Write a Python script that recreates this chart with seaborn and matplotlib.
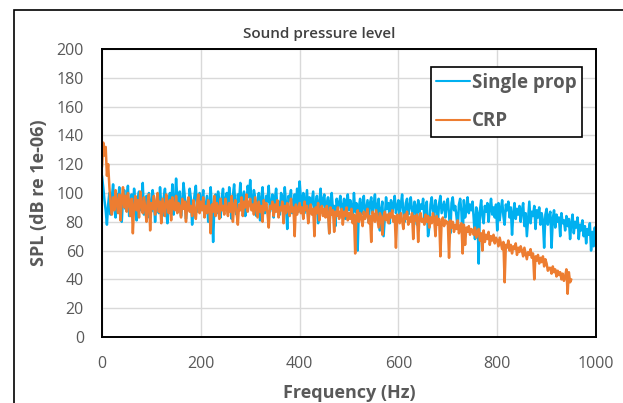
import numpy as np
import pandas as pd
import matplotlib.pyplot as plt
import matplotlib.patches as mpatches
import seaborn as sns

# =========================================
# 1. DATA (2.5 Hz steps)
# =========================================
FREQ_STEP = 2.5

spl_single = [
    112, 104, 95, 88, 78, 92, 100, 85, 97, 106, 90, 83, 99, 94, 104, 87, 80, 96, 102, 89,
    95, 105, 84, 91, 99, 86, 103, 93, 81, 97, 101, 88, 94, 107, 85, 90, 98, 83, 100, 92,
    87, 102, 95, 80, 93, 99, 86, 104, 91, 84, 97, 103, 88, 79, 95, 100, 90, 106, 85, 93,
    110, 96, 88, 101, 84, 92, 107, 98, 82, 94, 89, 103, 96, 78, 91, 99, 105, 87, 94, 100,
    88, 96, 102, 84, 91, 98, 80, 93, 104, 89, 66, 92, 99, 86, 101, 94, 83, 97, 103, 88,
    95, 100, 87, 104, 92, 82, 98, 106, 90, 85, 99, 94, 107, 88, 96, 101, 84, 93, 105, 97,
    109, 95, 88, 102, 97, 84, 93, 100, 81, 96, 104, 90, 86, 98, 94, 105, 87, 92, 99, 83,
    96, 103, 89, 94, 85, 100, 97, 88, 104, 92, 75, 98, 95, 102, 86, 93, 99, 90, 103, 87,
    108, 96, 91, 100, 86, 94, 102, 82, 97, 89, 95, 101, 84, 92, 98, 79, 93, 103, 88, 95,
    99, 86, 92, 97, 72, 94, 100, 88, 91, 77, 96, 89, 93, 98, 85, 90, 96, 82, 94, 99,
    88, 95, 91, 84, 100, 87, 93, 60, 90, 96, 85, 92, 98, 83, 89, 95, 80, 93, 97, 86,
    92, 99, 85, 90, 96, 74, 88, 94, 70, 84, 97, 89, 93, 79, 95, 87, 91, 98, 86, 90,
    95, 84, 92, 99, 87, 80, 93, 96, 85, 90, 97, 88, 82, 94, 91, 78, 95, 87, 92, 89,
    96, 83, 90, 94, 70, 76, 92, 97, 88, 84, 95, 89, 81, 93, 98, 86, 90, 94, 83, 91,
    96, 85, 72, 93, 97, 88, 91, 84, 75, 92, 96, 87, 68, 95, 83, 89, 97, 86, 92, 88,
    94, 82, 68, 90, 86, 51, 88, 95, 84, 79, 91, 87, 93, 80, 89, 96, 85, 90, 83, 92,
    74, 93, 81, 89, 95, 84, 78, 92, 88, 94, 83, 90, 71, 86, 93, 82, 89, 85, 91, 80,
    88, 93, 77, 86, 70, 82, 94, 79, 87, 84, 91, 75, 88, 83, 90, 78, 86, 81, 62, 85,
    89, 78, 84, 87, 62, 82, 88, 76, 85, 80, 83, 70, 86, 79, 81, 74, 84, 77, 82, 68,
    79, 85, 72, 80, 76, 83, 68, 78, 74, 81, 70, 77, 65, 75, 71, 79, 60, 73, 63, 76,
    68,
]

spl_crp = [
    118, 135, 126, 132, 112, 120, 104, 92, 85, 97, 88, 102, 93, 86, 99, 81, 95, 104, 90, 98,
    87, 100, 93, 84, 96, 72, 91, 98, 88, 95, 83, 101, 92, 86, 97, 90, 80, 94, 99, 74,
    93, 89, 98, 85, 92, 100, 87, 94, 79, 96, 90, 84, 99, 92, 86, 95, 81, 97, 91, 88,
    98, 86, 93, 90, 83, 96, 89, 94, 80, 92, 97, 87, 91, 84, 95, 88, 82, 93, 99, 86,
    94, 88, 97, 83, 91, 86, 95, 89, 72, 92, 87, 98, 84, 93, 90, 82, 96, 88, 91, 85,
    96, 89, 84, 93, 87, 98, 80, 91, 95, 86, 78, 92, 88, 97, 84, 94, 90, 99, 87, 93,
    96, 88, 92, 85, 97, 90, 83, 94, 87, 91, 80, 95, 88, 93, 86, 76, 91, 89, 94, 84,
    92, 87, 95, 83, 90, 88, 94, 79, 91, 86, 93, 89, 84, 96, 87, 90, 70, 92, 85, 89,
    93, 86, 90, 82, 94, 88, 91, 79, 87, 92, 85, 89, 70, 90, 86, 93, 81, 88, 91, 84,
    89, 83, 91, 86, 72, 90, 85, 88, 73, 87, 84, 90, 82, 86, 89, 78, 87, 84, 90, 81,
    86, 82, 89, 79, 85, 58, 84, 88, 80, 86, 83, 77, 87, 82, 85, 89, 79, 84, 66, 87,
    85, 80, 88, 82, 76, 86, 83, 71, 84, 87, 81, 85, 79, 86, 83, 88, 80, 84, 62, 85,
    84, 79, 86, 81, 75, 85, 82, 87, 78, 83, 80, 86, 68, 84, 81, 85, 66, 83, 86, 80,
    82, 78, 85, 80, 84, 76, 83, 79, 86, 81, 70, 84, 78, 82, 56, 80, 83, 77, 81, 79,
    80, 55, 81, 76, 80, 73, 78, 75, 81, 72, 77, 79, 58, 78, 64, 76, 73, 77, 71, 75,
    74, 71, 76, 69, 73, 75, 67, 72, 60, 74, 66, 71, 68, 73, 64, 70, 67, 71, 65, 69,
    67, 63, 69, 65, 61, 66, 38, 64, 62, 67, 60, 64, 58, 63, 61, 65, 57, 62, 59, 63,
    60, 56, 62, 58, 54, 59, 57, 61, 55, 58, 40, 56, 53, 57, 51, 55, 52, 56, 49, 54,
    51, 46, 48, 48, 44, 49, 45, 47, 42, 46, 43, 45, 40, 44, 39, 42, 47, 30, 45, 38,
    40,
]

series_names = ["Single prop", "CRP"]
series_colors = ["#00B0F0", "#ED7D31"]
x_ticks = [0, 200, 400, 600, 800, 1000]
y_ticks = [0, 20, 40, 60, 80, 100, 120, 140, 160, 180, 200]

df = pd.concat([
    pd.DataFrame({"freq": np.arange(len(spl_single)) * FREQ_STEP,
                  "spl": spl_single, "series": series_names[0]}),
    pd.DataFrame({"freq": np.arange(len(spl_crp)) * FREQ_STEP,
                  "spl": spl_crp, "series": series_names[1]}),
], ignore_index=True)

# =========================================
# 2. STYLE
# =========================================
sns.set_theme(style="whitegrid")
plt.rcParams["font.family"] = ["Open Sans", "DejaVu Sans"]
text_grey = "#595959"

fig = plt.figure(figsize=(6.23, 4.03), dpi=100)
ax = fig.add_axes([0.1637, 0.1638, 0.793, 0.7146])

sns.lineplot(data=df, x="freq", y="spl", hue="series",
             palette=dict(zip(series_names, series_colors)),
             estimator=None, sort=False, linewidth=1.8, ax=ax)

ax.set_xlim(0, 1000)
ax.set_ylim(0, 200)
ax.set_xticks(x_ticks)
ax.set_yticks(y_ticks)
ax.tick_params(axis="both", length=0, labelsize=11.5, labelcolor=text_grey)
ax.tick_params(axis="x", pad=14)
ax.tick_params(axis="y", pad=13)
ax.grid(True, color="#D9D9D9", linewidth=1)
for s in ax.spines.values():
    s.set_visible(True)
    s.set_color("black")
    s.set_linewidth(1.4)

ax.set_xlabel("Frequency (Hz)", fontsize=13, fontweight="bold", color=text_grey, labelpad=8)
ax.set_ylabel("SPL (dB re 1e-06)", fontsize=13, fontweight="bold", color=text_grey, labelpad=6)
fig.text(0.512, 0.916, "Sound pressure level", ha="center", va="center",
         fontsize=11, fontweight="semibold", color="#404040")

leg = ax.legend(loc="upper right", bbox_to_anchor=(0.972, 0.9375), title=None,
                fontsize=13.5, frameon=True, fancybox=False, handlelength=1.8,
                handletextpad=0.1, borderpad=0.3, labelspacing=1.0, borderaxespad=0)
leg.get_frame().set_edgecolor("black")
leg.get_frame().set_linewidth(1.2)
leg.get_frame().set_alpha(1)
for t in leg.get_texts():
    t.set_fontweight("bold")
    t.set_color(text_grey)
for line in leg.get_lines():
    line.set_linewidth(1.5)

# outer chart-area border (cut off at right / bottom in the original)
fig.patches.append(mpatches.Rectangle((0.0225, -0.5), 2.0, 1.475, transform=fig.transFigure,
                                      fill=False, edgecolor="black", linewidth=1.2))

fig.savefig("out.png", dpi=100)
